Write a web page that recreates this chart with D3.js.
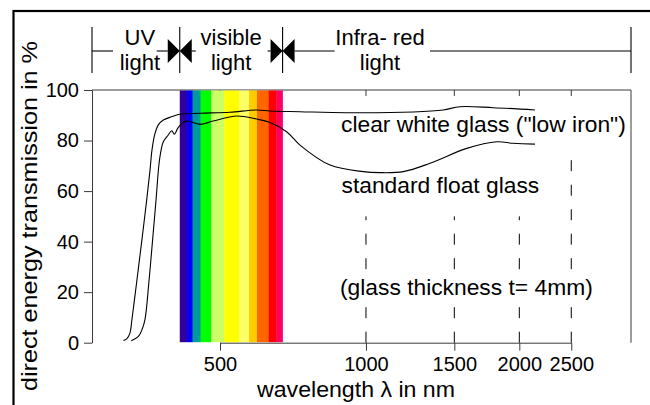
<!DOCTYPE html>
<html>
<head>
<meta charset="utf-8">
<script src="https://cdn.jsdelivr.net/npm/d3@7"></script>
<style>
  html, body { margin: 0; padding: 0; background: #fff; }
  svg { display: block; }
  text { font-family: "Liberation Sans", Arial, Helvetica, sans-serif; fill: #000; }
</style>
</head>
<body>
<svg id="chart" width="650" height="405"></svg>
<script>
// ---- data -------------------------------------------------------------
// Axis ticks
const wavelengthTicks = [500, 1000, 1500, 2000, 2500];     // nm
const transmissionTicks = [0, 20, 40, 60, 80, 100];         // %

// Clear white glass ("low iron"): wavelength (nm) and transmission (%)
const clearNm  = [316, 321, 326, 329, 337, 345, 353, 358.6, 362, 367, 373, 382, 397, 413,
                  455, 524, 595, 634, 731, 912, 1243, 1426, 1538, 1782, 2139];
const clearPct = [0.9, 1.5, 3.8, 9.0, 24.8, 40.6, 56.5, 68.3, 76.3, 82.6, 86.2, 88.1, 89.4, 90.4,
                  90.8, 91.2, 92.1, 91.7, 91.4, 91.0, 91.3, 92.1, 93.4, 93.0, 92.1];

// Standard float glass
const floatNm  = [328, 339, 345, 350, 357, 363, 369, 374, 377, 382, 391, 397.5, 402.5, 409, 417, 427,
                  455, 484, 541, 595, 634, 686, 731, 843, 987, 1066, 1187, 1342, 1585, 1809, 1947, 2139];
const floatPct = [0.8, 2.4, 5.0, 9.0, 24.8, 40.6, 56.5, 70.3, 75.0, 79.5, 82.2, 83.9, 82.5, 84.8, 86.8, 87.7,
                  86.4, 87.7, 89.7, 88.5, 87.1, 83.5, 78.2, 70.3, 67.7, 67.3, 67.7, 71.0, 76.9, 79.5, 78.9, 78.6];

// Visible spectrum: band edges (nm) and band colours
const spectrumEdges  = [413, 427, 439, 456, 480, 510, 548, 574, 596, 630, 654, 673];
const spectrumColors = ["#330099", "#0000ff", "#009999", "#00ff00", "#ccff66", "#ffff00",
                        "#ffff66", "#ffcc00", "#ff6600", "#ff0000", "#ff0066"];

// Dashed guide lines: wavelength (nm) and how high they reach (%)
const guideNm  = [1000, 1500, 2000, 2500];
const guideTop = [50, 50, 50, 77];

// Spectral regions shown in the header
const regionLines1 = ["UV", "visible", "Infra- red"];
const regionLines2 = ["light", "light", "light"];

// ---- layout -----------------------------------------------------------
const plot = { left: 92, top: 90, right: 631, bottom: 342.7 };
const plotW = plot.right - plot.left;
// relative positions of the wavelength ticks along the (stretched log) axis
const tickFrac = [0.2375, 0.5083, 0.6722, 0.7928, 0.8892];
const axisColor = "#3a3a3a";

const svg = d3.select("#chart");

// frame
svg.append("rect")
  .attr("x", 13.5).attr("y", 11).attr("width", 700).attr("height", 500)
  .attr("fill", "none").attr("stroke", "#000").attr("stroke-width", 2.2);

// scales
const x = d3.scaleLog()
  .domain(wavelengthTicks)
  .range(tickFrac.map(f => plot.left + f * plotW));
const y = d3.scaleLinear().domain([0, 100]).range([plot.bottom, plot.top]);

// top inner ticks (drawn first, the spectrum covers the one at 500 nm)
svg.append("g").selectAll("line").data(wavelengthTicks).join("line")
  .attr("x1", d => x(d)).attr("x2", d => x(d))
  .attr("y1", plot.top).attr("y2", plot.top + 6)
  .attr("stroke", axisColor).attr("stroke-width", 1);

// plot box: top and right sides
svg.append("path")
  .attr("d", `M${plot.left},${plot.top}H${plot.right}V${plot.bottom}`)
  .attr("fill", "none").attr("stroke", axisColor).attr("stroke-width", 1);

// spectrum bands
const bands = spectrumColors.map((c, i) => ({ c, a: spectrumEdges[i], b: spectrumEdges[i + 1] }));
svg.append("g").selectAll("rect").data(bands).join("rect")
  .attr("x", d => x(d.a))
  .attr("width", d => x(d.b) - x(d.a) + 0.3)
  .attr("y", y(100) + 0.5)
  .attr("height", y(0) - y(100) - 1)
  .attr("fill", d => d.c);

// dashed guides
svg.append("g").selectAll("line").data(guideNm).join("line")
  .attr("x1", d => x(d)).attr("x2", d => x(d))
  .attr("y1", y(0)).attr("y2", (d, i) => y(guideTop[i]))
  .attr("stroke", "#000").attr("stroke-width", 1)
  .attr("stroke-dasharray", "11,13.5");

// axes
const xAxis = d3.axisBottom(x).tickValues(wavelengthTicks).tickFormat(d3.format("d"))
  .tickSize(8).tickPadding(6).tickSizeOuter(0);
const yAxis = d3.axisLeft(y).tickValues(transmissionTicks)
  .tickSize(8).tickPadding(5).tickSizeOuter(0);

const gx = svg.append("g").attr("transform", `translate(0,${plot.bottom})`).call(xAxis);
const gy = svg.append("g").attr("transform", `translate(${plot.left},0)`).call(yAxis);
[gx, gy].forEach(g => {
  g.selectAll("path, line").attr("stroke", axisColor).attr("stroke-width", 1);
  g.selectAll("text").attr("font-size", 20).attr("font-family", null).attr("fill", "#000");
});

// transmission curves
const line = d3.line().x(d => x(d[0])).y(d => y(d[1])).curve(d3.curveCatmullRom.alpha(0.5));
const series = [
  { nm: clearNm, pct: clearPct },
  { nm: floatNm, pct: floatPct }
];
svg.append("g").selectAll("path").data(series).join("path")
  .attr("d", s => line(s.nm.map((n, i) => [n, s.pct[i]])))
  .attr("fill", "none").attr("stroke", "#000").attr("stroke-width", 1.1);

// curve labels (the thickness note sits on a white patch over the guides)
const notes = svg.append("g").attr("font-size", 22.8);
notes.append("text").attr("x", 341).attr("y", 131.5).text('clear white glass ("low iron")');
notes.append("text").attr("x", 341.5).attr("y", 193.3).text("standard float glass");
const patch = notes.append("rect").attr("fill", "#fff");
const thick = notes.append("text").attr("x", 340).attr("y", 294.5).text("(glass thickness t= 4mm)");
const tb = thick.node().getBBox();
patch.attr("x", tb.x - 2).attr("y", tb.y - 1).attr("width", tb.width + 4).attr("height", tb.height + 2);

// axis titles
svg.append("text")
  .attr("x", 356).attr("y", 396.7)
  .attr("text-anchor", "middle").attr("font-size", 22.5)
  .attr("textLength", 198).attr("lengthAdjust", "spacingAndGlyphs")
  .text("wavelength \u03bb in nm");
svg.append("text")
  .attr("transform", "translate(37,216) rotate(-90)")
  .attr("text-anchor", "middle").attr("font-size", 22.5)
  .attr("textLength", 350).attr("lengthAdjust", "spacingAndGlyphs")
  .text("direct energy transmission in %");

// ---- header: spectral regions ----------------------------------------
const hdr = svg.append("g").attr("stroke", "#000").attr("stroke-width", 1.1);
const hTop = 27, hBot = 73, hMid = 51;
const bounds = [plot.left, x(spectrumEdges[0]), x(spectrumEdges[spectrumEdges.length - 1]), plot.right];

// boundary ticks
hdr.selectAll("line.b").data(bounds).join("line").attr("class", "b")
  .attr("x1", d => d).attr("x2", d => d).attr("y1", hTop).attr("y2", hBot);

// bow-tie arrows at the visible boundaries
const tri = 12;
[bounds[1], bounds[2]].forEach(bx => {
  hdr.append("path")
    .attr("d", `M${bx - tri},${hMid - tri}L${bx},${hMid}L${bx - tri},${hMid + tri}Z` +
               `M${bx + tri},${hMid - tri}L${bx},${hMid}L${bx + tri},${hMid + tri}Z`)
    .attr("fill", "#000").attr("stroke", "none");
});

// connecting segments
const segs = [
  [bounds[0], bounds[0] + 21],
  [bounds[1] - 23, bounds[1] - tri],
  [bounds[1] + tri, bounds[1] + 16],
  [bounds[2] - 15, bounds[2] - tri],
  [bounds[2] + tri, bounds[2] + 52],
  [bounds[3] - 201, bounds[3]]
];
hdr.selectAll("line.s").data(segs).join("line").attr("class", "s")
  .attr("x1", d => d[0]).attr("x2", d => d[1]).attr("y1", hMid).attr("y2", hMid);

const centers = [(bounds[0] + bounds[1]) / 2 + 4, (bounds[1] + bounds[2]) / 2, 380];
const hText = svg.append("g").attr("font-size", 22).attr("text-anchor", "middle");
hText.selectAll("text.l1").data(regionLines1).join("text").attr("class", "l1")
  .attr("x", (d, i) => centers[i]).attr("y", 44.5).text(d => d);
hText.selectAll("text.l2").data(regionLines2).join("text").attr("class", "l2")
  .attr("x", (d, i) => centers[i]).attr("y", 69.5).text(d => d);
</script>
</body>
</html>
